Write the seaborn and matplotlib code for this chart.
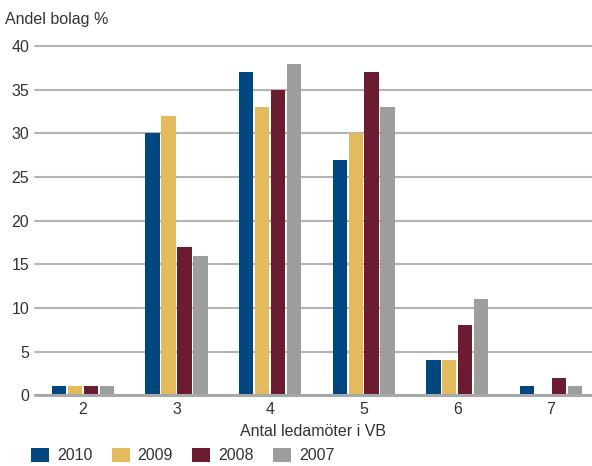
import pandas as pd
import numpy as np
import matplotlib.pyplot as plt
import seaborn as sns
from matplotlib.patches import Patch

# Data
categories = ["2", "3", "4", "5", "6", "7"]
years = ["2010", "2009", "2008", "2007"]
v2010 = [1, 30, 37, 27, 4, 1]
v2009 = [1, 32, 33, 30, 4, 0]
v2008 = [1, 17, 35, 37, 8, 2]
v2007 = [1, 16, 38, 33, 11, 1]
colors = ["#00467f", "#e3bb5c", "#6b1c31", "#9d9d9d"]

df = pd.DataFrame({
    "antal": categories * 4,
    "year": [y for y in years for _ in categories],
    "andel": v2010 + v2009 + v2008 + v2007,
})

sns.set_style("white")
plt.rcParams["font.family"] = ["Liberation Sans", "DejaVu Sans"]
text_color = "#333333"
fs = 11.5

fig = plt.figure(figsize=(5.92, 4.66), dpi=100)
ax = fig.add_axes([0.059, 0.152, 0.941, 0.749])

sns.barplot(data=df, x="antal", y="andel", hue="year", hue_order=years,
            palette=colors, width=0.68, gap=0.1, ax=ax, legend=False,
            saturation=1, linewidth=0, zorder=3)

ax.set_ylim(0, 40)
ax.set_xlim(-0.513, 5.44)
ax.set_yticks(range(0, 41, 5))
ax.yaxis.grid(True, color="#b4b4b4", linewidth=1.5, zorder=0)
for l in ax.get_ygridlines():
    l.set_clip_on(False)
ax.axhline(0, color="#a8a8a8", linewidth=2.2, zorder=4, clip_on=False)
for s in ax.spines.values():
    s.set_visible(False)
ax.tick_params(axis="both", length=0, labelsize=fs, colors=text_color)
ax.tick_params(axis="y", pad=4)
ax.tick_params(axis="x", pad=5)
ax.set_xlabel("Antal ledamöter i VB", fontsize=fs, color=text_color)
ax.xaxis.set_label_coords(0.5, -0.083)
ax.set_ylabel("")
fig.text(0.008, 1 - 12 / 466, "Andel bolag %", fontsize=fs, color=text_color,
         va="top")

handles = [Patch(facecolor=c, edgecolor="none") for c in colors]
fig.legend(handles, years, loc="lower left", bbox_to_anchor=(31 / 592, 0.006),
           ncol=4, frameon=False, fontsize=fs, handlelength=1.13,
           handleheight=1.0, handletextpad=0.5, columnspacing=1.2,
           borderpad=0, borderaxespad=0, labelcolor=text_color)

fig.savefig("out.png", dpi=100)
